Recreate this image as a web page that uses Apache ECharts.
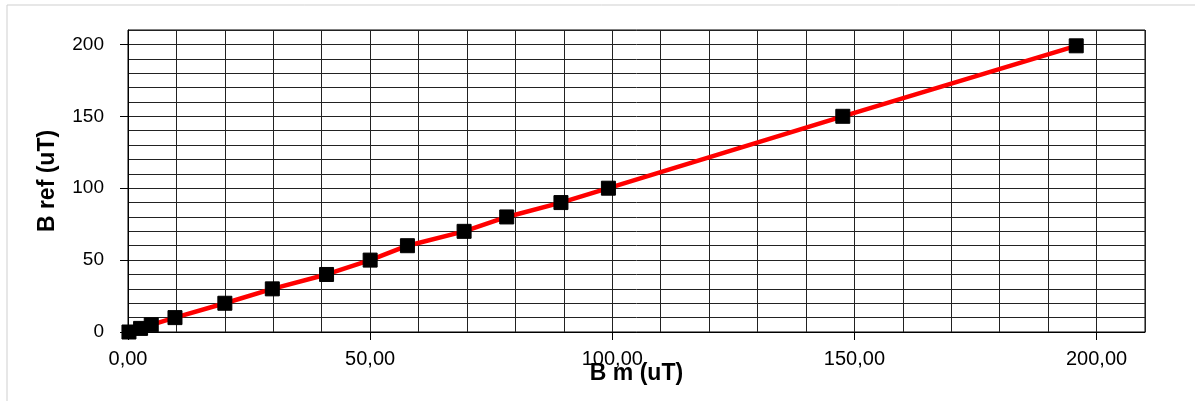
<!DOCTYPE html>
<html>
<head>
<meta charset="utf-8">
<script src="https://cdn.jsdelivr.net/npm/echarts@6/dist/echarts.min.js"></script>
<style>
  html, body { margin: 0; padding: 0; background: #fff; }
  #chart { width: 1195px; height: 401px; }
</style>
</head>
<body>
<div id="chart"></div>
<script>
// Measured field (B m) against reference field (B ref), both in uT
const bMeasured = [0.2, 2.6, 4.8, 9.7, 20.0, 29.8, 41.0, 50.0, 57.7, 69.4, 78.2, 89.4, 99.2, 147.6, 195.8];
const bReference = [0, 2.5, 5, 10, 20, 30, 40, 50, 60, 70, 80, 90, 100, 150, 199];
const xTickLabels = [0, 50, 100, 150, 200];
const yTickLabels = [0, 50, 100, 150, 200];

const points = bMeasured.map((x, i) => [x, bReference[i]]);
const font = '"Liberation Sans", Arial, sans-serif';
const AXIS_MAX = 210;

// Fine 10-unit grid drawn by a bare companion axis sharing the same scale
const gridAxis = (position) => ({
  type: 'value', min: 0, max: AXIS_MAX, interval: 10, position,
  axisLine: { show: false }, axisTick: { show: false }, axisLabel: { show: false },
  splitLine: { show: true, lineStyle: { color: '#222', width: 1 } }
});

const chart = echarts.init(document.getElementById('chart'), null, { renderer: 'canvas' });
chart.setOption({
  animation: false,
  backgroundColor: '#ffffff',
  graphic: [{
    type: 'rect',
    shape: { x: 7, y: 5, width: 1300, height: 500 },
    style: { fill: 'none', stroke: '#cfcfcf', lineWidth: 1 },
    silent: true
  }],
  grid: {
    left: 128, right: 50, top: 30, bottom: 69,
    show: true, borderColor: '#000', borderWidth: 1, backgroundColor: 'transparent'
  },
  xAxis: [{
    type: 'value', min: 0, max: AXIS_MAX, interval: 50, position: 'bottom',
    name: 'B m (uT)', nameLocation: 'middle', nameGap: 30, nameMoveOverlap: false,
    nameTextStyle: { fontFamily: font, fontSize: 23, fontWeight: 'bold', color: '#000' },
    axisLine: { show: true, lineStyle: { color: '#000', width: 1 } },
    axisTick: { show: true, length: 8, lineStyle: { color: '#000' }, customValues: xTickLabels },
    axisLabel: {
      customValues: xTickLabels, margin: 17,
      fontFamily: font, fontSize: 20, color: '#000',
      formatter: v => v.toFixed(2).replace('.', ',')
    },
    splitLine: { show: false }
  }, gridAxis('bottom')],
  yAxis: [{
    type: 'value', min: 0, max: AXIS_MAX, interval: 50, position: 'left',
    name: 'B ref (uT)', nameLocation: 'middle', nameGap: 69, nameRotate: 90,
    nameTextStyle: { fontFamily: font, fontSize: 23, fontWeight: 'bold', color: '#000' },
    axisLine: { show: true, lineStyle: { color: '#000', width: 1 } },
    axisTick: { show: true, length: 8, lineStyle: { color: '#000' }, customValues: yTickLabels },
    axisLabel: {
      customValues: yTickLabels, margin: 24,
      fontFamily: font, fontSize: 19, color: '#000'
    },
    splitLine: { show: false }
  }, gridAxis('left')],
  series: [{
    type: 'line',
    xAxisIndex: 0, yAxisIndex: 0,
    data: points,
    lineStyle: { color: '#ff0000', width: 4.5 },
    symbol: 'rect', symbolSize: 14,
    itemStyle: { color: '#000', borderColor: '#000' },
    z: 3
  }]
});
</script>
</body>
</html>
